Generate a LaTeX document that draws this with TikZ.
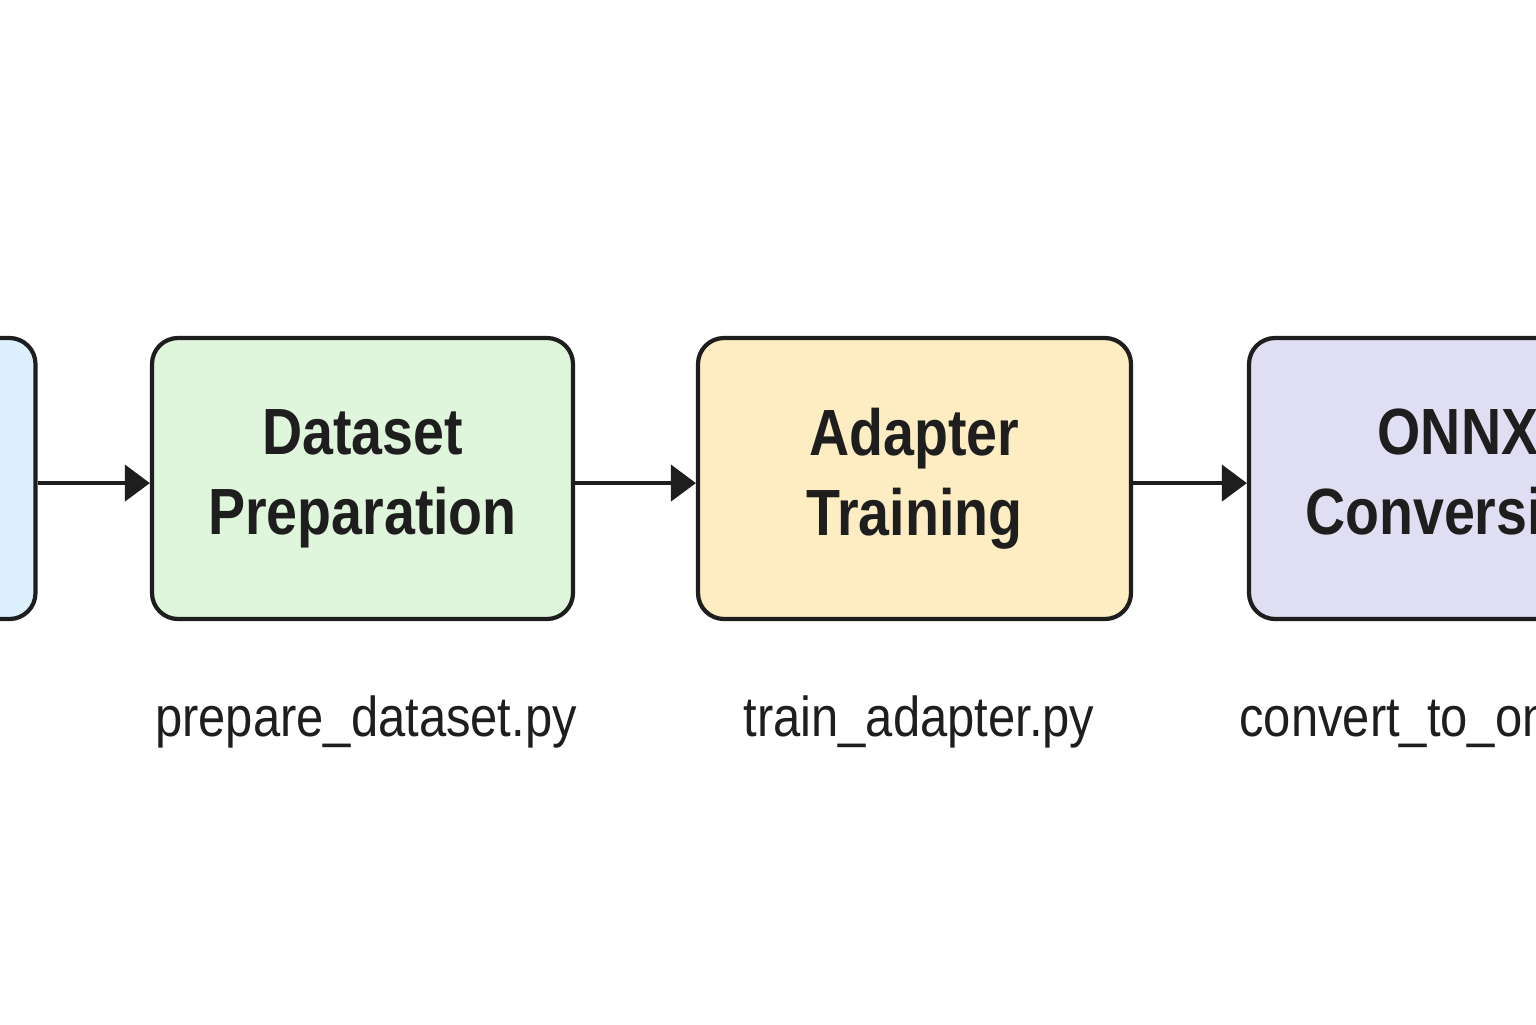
\documentclass[tikz,border=0pt]{standalone}
\usepackage{fontspec}
\usetikzlibrary{arrows.meta}
\newfontfamily\stagefont[FakeStretch=0.85]{Liberation Sans}
\newfontfamily\filefont[FakeStretch=0.87]{Liberation Sans}
\definecolor{rimcol}{HTML}{1E1E1E}
\definecolor{bluefill}{HTML}{DDF0FD}
\definecolor{greenfill}{HTML}{E0F6DC}
\definecolor{yellowfill}{HTML}{FEEDC3}
\definecolor{purplefill}{HTML}{E0DEF2}
\tikzstyle{stage}=[rectangle, rounded corners=0.26cm, draw=rimcol, line width=1.2pt,
  minimum width=4.21cm, minimum height=2.81cm, inner sep=0pt, align=center,
  font=\stagefont\bfseries\fontsize{18.6}{22.7}\selectfont, text=rimcol,
  execute at end node=\vphantom{p}]
\tikzstyle{script}=[anchor=base, inner sep=0pt, text=rimcol,
  font=\filefont\fontsize{16}{19}\selectfont]
\newcommand{\stage}{\node[stage]}

\begin{document}
\begin{tikzpicture}[x=1cm, y=1cm
  ,every edge/.style={draw=rimcol, line width=1.2pt, -{Triangle[length=0.25cm, width=0.36cm]}}
]
\useasboundingbox (0,0) rectangle (15.36,-10.24);
\clip (0,0) rectangle (15.36,-10.24);
\fill[white] (0,0) rectangle (15.36,-10.24);
\stage[fill=bluefill] (collect) at (-1.75,-4.785) { };
\stage[fill=greenfill] (prep) at (3.625,-4.785) {Dataset\\Preparation};
\stage[fill=yellowfill, minimum width=4.33cm] (train) at (9.145,-4.785) {Adapter\\Training};
\stage[fill=purplefill, minimum width=4.18cm] (onnx) at (14.58,-4.785) {ONNX\\Conversion};
\node[script] (prepscript) at (3.66,-7.36) {prepare\_dataset.py};
\node[script] (trainscript) at (9.19,-7.36) {train\_adapter.py};
\node[script] (onnxscript) at (14.53,-7.36) {convert\_to\_onnx.py};
\path
([yshift=-1.3pt]collect.east) edge ([yshift=-1.3pt]prep.west)
([yshift=-1.3pt]prep.east) edge ([yshift=-1.3pt]train.west)
([yshift=-1.3pt]train.east) edge ([yshift=-1.3pt]onnx.west)
;
\end{tikzpicture}
\end{document}
